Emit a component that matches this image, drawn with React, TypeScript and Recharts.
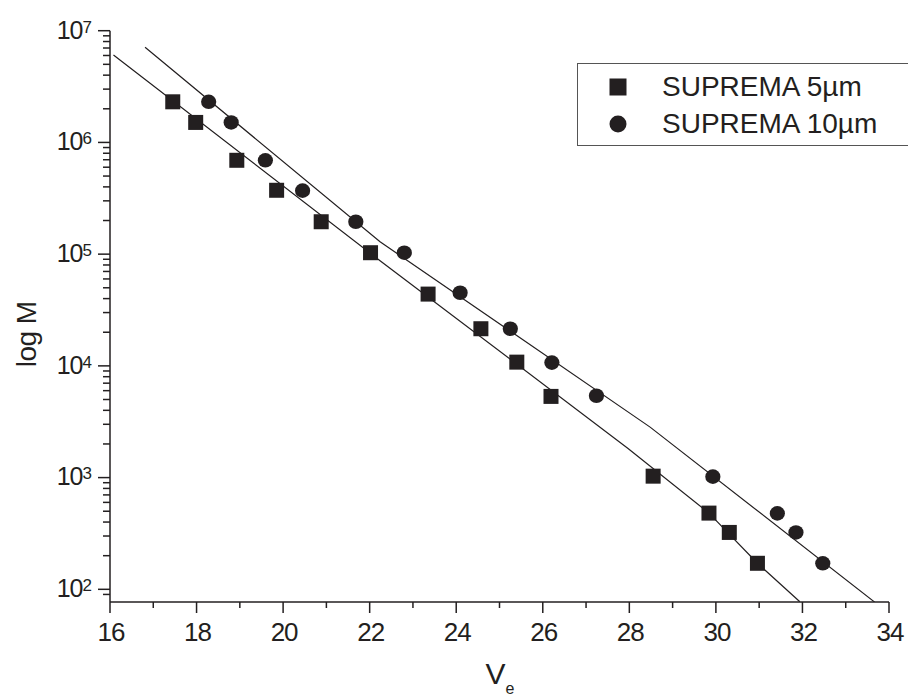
import {
  ComposedChart,
  Line,
  Scatter,
  XAxis,
  YAxis,
  Legend,
} from 'recharts';

// measured points (Ve, M)
const squareV = [17.45, 17.98, 18.93, 19.85, 20.88, 22.02, 23.35, 24.57, 25.4, 26.19, 28.55, 29.84, 30.31, 30.96];
const squareM = [2.31e6, 1.51e6, 6.92e5, 3.73e5, 1.95e5, 1.03e5, 4.39e4, 2.15e4, 1.08e4, 5.33e3, 1030, 481, 323, 171];
const circleV = [18.28, 18.8, 19.59, 20.45, 21.68, 22.8, 24.09, 25.25, 26.21, 27.24, 29.93, 31.42, 31.85, 32.47];
const circleM = [2.31e6, 1.51e6, 6.92e5, 3.7e5, 1.95e5, 1.03e5, 4.51e4, 2.15e4, 1.07e4, 5.4e3, 1020, 478, 323, 171];

// calibration lines, vertices
const fit5V = [16.08, 22.24, 27.97, 29.84, 30.96, 31.94];
const fit5M = [6.05e6, 8.73e4, 1824, 481, 171, 77.3];
const fit10V = [16.81, 22.24, 28.48, 33.67];
const fit10M = [7.1e6, 1.29e5, 2830, 76.8];

const xTicks = [16, 17, 18, 19, 20, 21, 22, 23, 24, 25, 26, 27, 28, 29, 30, 31, 32, 33, 34];
const yMajor = [1e2, 1e3, 1e4, 1e5, 1e6, 1e7];
const yMinorSteps = [2, 3, 4, 5, 6, 7, 8, 9];

const series5 = squareV.map((x, i) => ({ x, y: squareM[i] }));
const series10 = circleV.map((x, i) => ({ x, y: circleM[i] }));
const line5 = fit5V.map((x, i) => ({ x, y: fit5M[i] }));
const line10 = fit10V.map((x, i) => ({ x, y: fit10M[i] }));

const yTicks = [90];
yMajor.forEach((m) => {
  yTicks.push(m);
  if (m < 1e7) yMinorSteps.forEach((s) => yTicks.push(m * s));
});

const INK = '#231f20';
const FONT = '"Liberation Sans", Arial, sans-serif';

const SquareShape = (props: any) => {
  const { cx, cy } = props;
  return <rect x={cx - 7.5} y={cy - 7.5} width={15} height={15} fill={INK} />;
};

const CircleShape = (props: any) => {
  const { cx, cy } = props;
  return <ellipse cx={cx} cy={cy} rx={7.6} ry={7.3} fill={INK} />;
};

const YTick = (props: any) => {
  const { x, y, payload } = props;
  const v = payload.value;
  const lg = Math.log10(v);
  const major = Math.abs(lg - Math.round(lg)) < 1e-6;
  return (
    <g>
      <line x1={x - (major ? 12 : 7)} x2={x} y1={y} y2={y} stroke={INK} strokeWidth={1.5} />
      {major && (
        <text x={x - 19} y={y + 7.8} textAnchor="end" fontSize={25} fill={INK} fontFamily={FONT} letterSpacing={-1}>
          10
          <tspan dy={-6} fontSize={17}>
            {Math.round(lg)}
          </tspan>
        </text>
      )}
    </g>
  );
};

const XTick = (props: any) => {
  const { x, y, payload } = props;
  const v = payload.value;
  const major = v % 2 === 0;
  return (
    <g>
      <line x1={x} x2={x} y1={y} y2={y + (major ? 11 : 6)} stroke={INK} strokeWidth={1.5} />
      {major && (
        <text x={x + 1} y={y + 38.7} textAnchor="middle" fontSize={26} fill={INK} fontFamily={FONT} letterSpacing={-1}>
          {v}
        </text>
      )}
    </g>
  );
};

const LegendBox = () => {
  const rows = [
    { name: 'SUPREMA 5µm', square: true, cy: 22.5 },
    { name: 'SUPREMA 10µm', square: false, cy: 59.5 },
  ];
  return (
    <div
      style={{
        position: 'relative',
        boxSizing: 'border-box',
        width: 331,
        height: 83,
        borderTop: '1.5px solid #555',
        borderLeft: '1.5px solid #555',
        borderBottom: '1.5px solid #555',
        fontFamily: FONT,
        color: INK,
      }}
    >
      {rows.map((r) => (
        <div key={r.name} style={{ position: 'absolute', left: 0, top: r.cy - 16, height: 32, width: 330 }}>
          <svg width={20} height={20} style={{ position: 'absolute', left: 30, top: 6 }}>
            {r.square ? (
              <rect x={1.5} y={1.5} width={17} height={17} fill={INK} />
            ) : (
              <circle cx={10} cy={10} r={8.5} fill={INK} />
            )}
          </svg>
          <span
            style={{
              position: 'absolute',
              left: 84,
              top: 0,
              lineHeight: '32px',
              fontSize: 28,
              letterSpacing: 0,
              whiteSpace: 'nowrap',
            }}
          >
            {r.name}
          </span>
        </div>
      ))}
    </div>
  );
};

export default function App() {
  return (
    <div style={{ width: 908, height: 696, position: 'relative', background: '#fff' }}>
      <style>{'body{margin:0;overflow:hidden}'}</style>
      <ComposedChart
        width={908}
        height={696}
        margin={{ top: 30.7, right: 19, left: 0, bottom: 34 }}
        style={{ fontFamily: FONT }}
      >
        <XAxis
          type="number"
          dataKey="x"
          domain={[16, 34]}
          ticks={xTicks}
          interval={0}
          allowDataOverflow
          height={60}
          tickSize={0}
          tickMargin={0}
          tick={<XTick />}
          axisLine={{ stroke: INK, strokeWidth: 1.5 }}
          label={{
            content: (p: any) => {
              const vb = p.viewBox;
              const cx = vb.x + vb.width / 2;
              return (
                <text x={cx - 14} y={684} fontSize={30} fill={INK} fontFamily={FONT}>
                  V
                  <tspan dy={10} fontSize={16}>
                    e
                  </tspan>
                </text>
              );
            },
          }}
        />
        <YAxis
          type="number"
          dataKey="y"
          scale="log"
          domain={[77, 1e7]}
          ticks={yTicks}
          interval={0}
          allowDataOverflow
          width={110}
          tickSize={0}
          tickMargin={0}
          tick={<YTick />}
          axisLine={{ stroke: INK, strokeWidth: 1.5 }}
          label={{
            content: (p: any) => {
              const vb = p.viewBox;
              const cy = vb.y + vb.height / 2 + 18;
              return (
                <text
                  x={36}
                  y={cy}
                  transform={`rotate(-90, 36, ${cy})`}
                  textAnchor="middle"
                  fontSize={28}
                  fill={INK}
                  fontFamily={FONT}
                  letterSpacing={-0.5}
                >
                  log M
                </text>
              );
            },
          }}
        />
        <Legend
          layout="vertical"
          align="center"
          verticalAlign="middle"
          content={() => <LegendBox />}
          wrapperStyle={{ position: 'absolute', left: 577, top: 63, width: 331, height: 83 }}
        />
        <Line
          data={line5}
          dataKey="y"
          type="linear"
          stroke={INK}
          strokeWidth={1.2}
          dot={false}
          activeDot={false}
          isAnimationActive={false}
          legendType="none"
        />
        <Line
          data={line10}
          dataKey="y"
          type="linear"
          stroke={INK}
          strokeWidth={1.2}
          dot={false}
          activeDot={false}
          isAnimationActive={false}
          legendType="none"
        />
        <Scatter name="SUPREMA 5µm" data={series5} shape={<SquareShape />} isAnimationActive={false} />
        <Scatter name="SUPREMA 10µm" data={series10} shape={<CircleShape />} isAnimationActive={false} />
      </ComposedChart>
    </div>
  );
}
